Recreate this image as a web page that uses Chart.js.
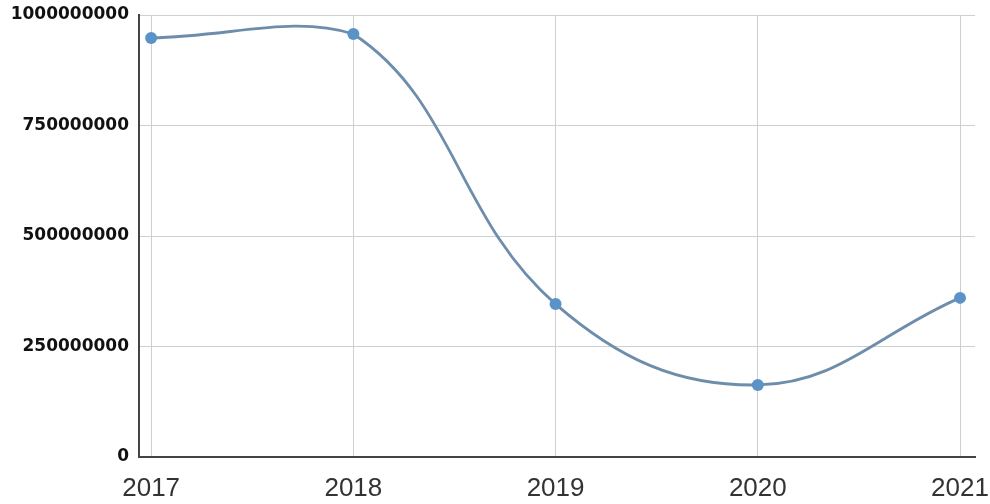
<!DOCTYPE html>
<html>
<head>
<meta charset="utf-8">
<script src="https://cdn.jsdelivr.net/npm/chart.js@4/dist/chart.umd.min.js"></script>
<style>
  html, body { margin: 0; padding: 0; background: #fff; }
  #wrap { width: 990px; height: 504px; }
</style>
</head>
<body>
<div id="wrap"><canvas id="myChart" width="990" height="504"></canvas></div>
<script>
// yearly totals
const years = [2017, 2018, 2019, 2020, 2021];
const totals = [948000000, 957000000, 346000000, 163000000, 360000000];
const yTicks = [0, 250000000, 500000000, 750000000, 1000000000];

const points = years.map((yr, i) => ({ x: yr, y: totals[i] }));

const ctx = document.getElementById('myChart').getContext('2d');

new Chart(ctx, {
    type: 'line',
    data: {
        datasets: [{
            data: points,
            borderColor: '#6d8dab',
            borderWidth: 2.8,
            backgroundColor: '#5b93c8',
            pointBackgroundColor: '#5b93c8',
            pointBorderWidth: 0,
            pointRadius: 6,
            tension: 0.4,
            clip: false,
            fill: false
        }]
    },
    options: {
        responsive: false,
        animation: false,
        layout: { padding: { top: 15, right: 15, left: 0, bottom: 0 } },
        plugins: {
            legend: { display: false },
            tooltip: { enabled: false }
        },
        scales: {
            x: {
                type: 'linear',
                min: 2016.94,
                max: 2021.074,
                afterBuildTicks: scale => {
                    scale.ticks = years.map(v => ({ value: v }));
                },
                afterFit: scale => {
                    scale.height = 47;
                    scale.paddingLeft = 0;
                    scale.paddingRight = 0;
                },
                border: { display: true, color: '#444', width: 2 },
                grid: { color: '#cfcfcf', lineWidth: 1, drawTicks: false },
                ticks: {
                    color: '#333',
                    padding: 16,
                    maxRotation: 0,
                    font: { family: 'Liberation Sans', size: 26 },
                    callback: v => String(v)
                }
            },
            y: {
                min: 0,
                max: 1000000000,
                afterBuildTicks: scale => {
                    scale.ticks = yTicks.map(v => ({ value: v }));
                },
                afterFit: scale => {
                    scale.width = 139;
                    scale.paddingTop = 0;
                    scale.paddingBottom = 0;
                },
                border: { display: true, color: '#444', width: 2 },
                grid: { color: '#cfcfcf', lineWidth: 1, drawTicks: false },
                ticks: {
                    color: '#111',
                    padding: 10,
                    font: { family: 'DejaVu Sans', size: 17, weight: 'bold' },
                    callback: v => String(v)
                }
            }
        }
    }
});
</script>
</body>
</html>
